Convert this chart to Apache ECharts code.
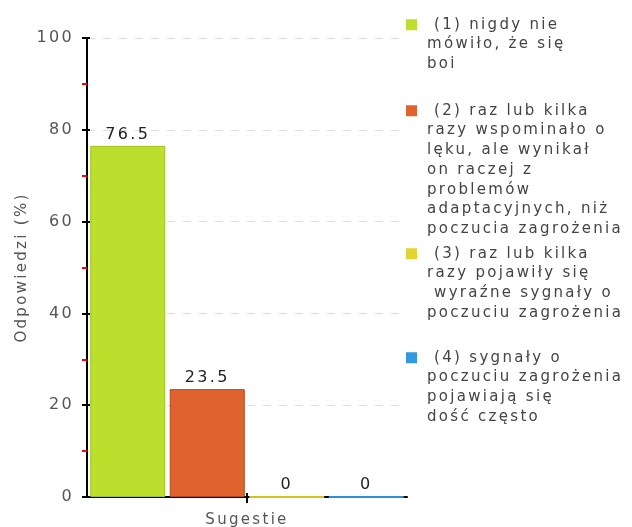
<!DOCTYPE html>
<html><head><meta charset="utf-8">
<script src="https://cdn.jsdelivr.net/npm/echarts@6/dist/echarts.min.js"></script>
<style>html,body{margin:0;padding:0;background:#fff}#c{width:632px;height:527px}</style>
</head><body><div id="c"></div>
<script>
// ---- data ----
const categories = ['Sugestie'];
const seriesNames = [
  '(1) nigdy nie mówiło, że się boi',
  '(2) raz lub kilka razy wspominało o lęku, ale wynikał on raczej z problemów adaptacyjnych, niż poczucia zagrożenia',
  '(3) raz lub kilka razy pojawiły się wyraźne sygnały o poczuciu zagrożenia',
  '(4) sygnały o poczuciu zagrożenia pojawiają się dość często'
];
const legendLines = [
  [' (1) nigdy nie', 'mówiło, że się', 'boi'],
  [' (2) raz lub kilka', 'razy wspominało o', 'lęku, ale wynikał', 'on raczej z', 'problemów', 'adaptacyjnych, niż', 'poczucia zagrożenia'],
  [' (3) raz lub kilka', 'razy pojawiły się', ' wyraźne sygnały o', 'poczuciu zagrożenia'],
  [' (4) sygnały o', 'poczuciu zagrożenia', 'pojawiają się', 'dość często']
];
const values = [76.5, 23.5, 0, 0];
const yMin = 0, yMax = 100, yInterval = 20;
const yAxisName = 'Odpowiedzi (%)';

// ---- styling ----
const colors = ['#bcdf2e', '#e0632e', '#e2d432', '#3399e0'];
const borders = ['#9cc21c', '#b4471c', '#d2c420', '#2f8fd6'];
const borderWidths = [1, 1, 2, 2];
const legendCenters = [25, 111, 254, 358];
const LH = 19.7;
const FONT = 'DejaVu Sans';

// wider letter spacing like the reference font rendering
(function(){
  const p = CanvasRenderingContext2D.prototype;
  const ft = p.fillText, mt = p.measureText;
  p.fillText = function(){ try{ this.letterSpacing = '2.3px'; }catch(e){} return ft.apply(this, arguments); };
  p.measureText = function(){ try{ this.letterSpacing = '2.3px'; }catch(e){} return mt.apply(this, arguments); };
})();

const chart = echarts.init(document.getElementById('c'), null, {renderer: 'canvas'});

const ICON_W = 16;
const legends = seriesNames.map((name, i) => {
  const n = legendLines[i].length;
  const H = LH * n;
  const s0 = LH / 2 - 5.5, s1 = LH / 2 + 5.5;
  // square at the first text line; invisible zero-area strokes stretch the icon box to the text block
  const icon = 'path://M0,' + s0 + 'L11,' + s0 + 'L11,' + s1 + 'L0,' + s1 + 'Z' +
               'M0,0L' + ICON_W + ',0Z' + 'M0,' + H + 'L' + ICON_W + ',' + H + 'Z';
  return {
    data: [{ name: name, icon: icon }],
    orient: 'vertical',
    left: 406,
    top: Math.round(legendCenters[i] - LH / 2),
    padding: 0,
    itemWidth: ICON_W,
    itemHeight: H,
    itemGap: 5,
    selectedMode: false,
    itemStyle: { borderWidth: 0, color: colors[i] },
    formatter: () => legendLines[i].join('\n'),
    textStyle: { fontFamily: FONT, fontSize: 15, color: '#444', lineHeight: LH }
  };
});

const series = seriesNames.map((name, i) => ({
  name: name,
  type: 'bar',
  data: [values[i]],
  barWidth: 75,
  barGap: '6%',
  itemStyle: { color: colors[i], borderColor: borders[i], borderWidth: borderWidths[i] },
  label: {
    show: true, position: 'top', distance: 2,
    fontFamily: FONT, fontSize: 16, color: '#222',
    formatter: p => String(p.value)
  }
}));

chart.setOption({
  animation: false,
  color: colors,
  grid: { left: 87, top: 38, width: 320, height: 459, containLabel: false, outerBoundsMode: 'none' },
  legend: legends,
  xAxis: [{
    type: 'category',
    data: categories,
    axisLine: { lineStyle: { color: '#000', width: 2 } },
    axisTick: { show: true, alignWithLabel: true, length: 6, lineStyle: { color: '#000', width: 2 } },
    axisLabel: { fontFamily: FONT, fontSize: 15, color: '#555', margin: 14 },
    splitLine: { show: false }
  }, {
    type: 'category',
    data: categories,
    position: 'bottom',
    axisLine: { show: false },
    axisTick: { show: true, inside: true, alignWithLabel: true, length: 4, lineStyle: { color: '#000', width: 2 } },
    axisLabel: { show: false },
    splitLine: { show: false }
  }],
  yAxis: [{
    type: 'value',
    min: yMin, max: yMax, interval: yInterval,
    name: yAxisName,
    nameLocation: 'middle',
    nameGap: 56,
    nameMoveOverlap: false,
    nameTextStyle: { fontFamily: FONT, fontSize: 15, color: '#555' },
    axisLine: { show: true, lineStyle: { color: '#000', width: 2 } },
    axisTick: { show: true, length: 5, lineStyle: { color: '#000', width: 2 } },
    minorTick: { show: true, splitNumber: 2, length: 5, lineStyle: { color: '#ff0000', width: 2 } },
    axisLabel: { fontFamily: FONT, fontSize: 16, color: '#555', margin: 13 },
    splitLine: { show: true, lineStyle: { color: '#dddddd', type: [8, 8], width: 1 } }
  }, {
    type: 'value',
    min: yMin, max: yMax, interval: yInterval,
    position: 'left',
    axisLine: { show: false },
    axisTick: { show: true, inside: true, length: 3, lineStyle: { color: '#000', width: 2 } },
    axisLabel: { show: false },
    splitLine: { show: false }
  }],
  series: series
});
</script>
</body></html>
